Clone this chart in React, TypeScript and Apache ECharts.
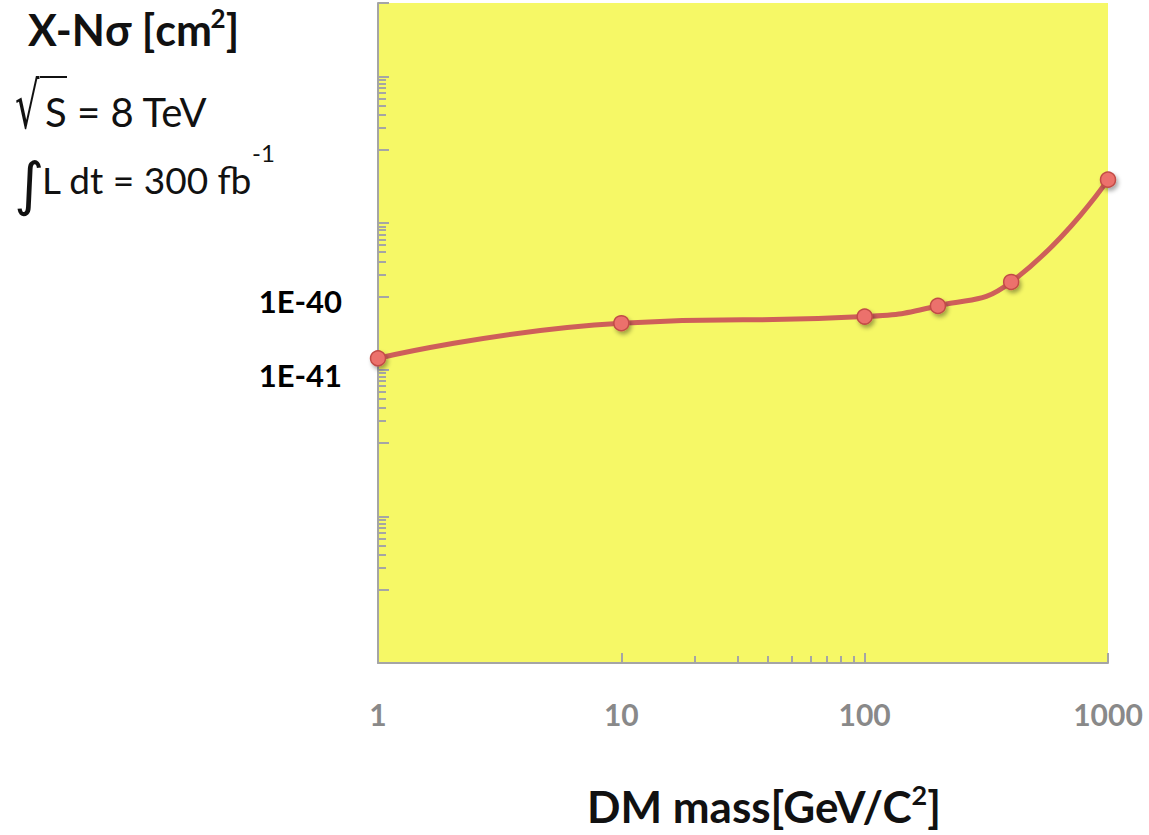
import React, { useEffect, useRef } from "react";
import * as echarts from "echarts";

// ---- data ----
const massValues = [1, 10, 100, 200, 400, 1000];
const sigmaValues = [1.43e-41, 4.3e-41, 5.3e-41, 7.4e-41, 1.57e-40, 3.9e-39]; // cm^2

const xMin = 1;
const xMax = 1000;
const xMajorTicks = [1, 10, 100, 1000];
const xMinorTicks = [20, 30, 40, 50, 60, 70, 80, 90];
const xLabelValues = [1, 10, 100, 1000];

const yMinExponent = -45;
const yMaxExponent = -36;
const yMajorExponents = [-45, -44, -43, -42, -41, -40, -39, -38, -37, -36];
const yMinorExponents = [-44, -42, -40, -38];
const yMinorMultipliers = [2, 3, 4, 5, 6, 7, 8, 9];
const yLabelExponents = [-41, -40];

// the axis works in units of 1e-45 cm^2 (ECharts rounds tiny extents to 0)
const UNIT_EXP = -45;
const toUnit = (v: number) => v * Math.pow(10, -UNIT_EXP);
const expToUnit = (e: number) => Math.pow(10, e - UNIT_EXP);

const yMajorTicks = yMajorExponents.map(expToUnit);
const yMinorTicks: number[] = [];
yMinorExponents.forEach((e) =>
  yMinorMultipliers.forEach((m) => yMinorTicks.push(m * expToUnit(e)))
);

const AXIS_GRAY = "#A5A5A5";
const FONT = "Lato, 'Open Sans', sans-serif";

export default function App() {
  const ref = useRef<HTMLDivElement>(null);
  useEffect(() => {
    if (!ref.current) return;
    const chart = echarts.init(ref.current, undefined, { renderer: "svg" });
    const yAxisBase = {
      type: "log",
      logBase: 10,
      min: expToUnit(yMinExponent),
      max: expToUnit(yMaxExponent),
      position: "left",
      splitLine: { show: false },
    };
    chart.setOption({
      animation: false,
      grid: {
        left: 378,
        right: 41,
        top: 3,
        bottom: 172,
        show: true,
        backgroundColor: "#F6F866",
        borderWidth: 0,
        outerBoundsMode: "none",
      },
      xAxis: [
        {
          type: "log",
          logBase: 10,
          min: xMin,
          max: xMax,
          position: "bottom",
          axisLine: { show: true, onZero: false, lineStyle: { color: AXIS_GRAY, width: 2 } },
          axisTick: {
            show: true,
            inside: true,
            length: 10,
            customValues: xMajorTicks,
            lineStyle: { color: AXIS_GRAY, width: 2 },
          },
          splitLine: { show: false },
          axisLabel: {
            customValues: xLabelValues,
            formatter: (v: number) => String(Math.round(v)),
            color: "#898989",
            fontFamily: FONT,
            fontWeight: "bold",
            fontSize: 30,
            margin: 36,
          },
        },
        {
          type: "log",
          logBase: 10,
          min: xMin,
          max: xMax,
          position: "bottom",
          axisLine: { show: false, onZero: false },
          axisTick: {
            show: true,
            inside: true,
            length: 7,
            customValues: xMinorTicks,
            lineStyle: { color: AXIS_GRAY, width: 2 },
          },
          splitLine: { show: false },
          axisLabel: { show: false },
        },
      ],
      yAxis: [
        {
          ...yAxisBase,
          axisLine: { show: true, onZero: false, lineStyle: { color: AXIS_GRAY, width: 2 } },
          axisTick: {
            show: true,
            inside: true,
            length: 11,
            customValues: yMajorTicks,
            lineStyle: { color: AXIS_GRAY, width: 2 },
          },
          axisLabel: {
            customValues: yLabelExponents.map(expToUnit),
            formatter: (v: number) => "1E" + (Math.round(Math.log10(v)) + UNIT_EXP),
            color: "#000000",
            fontFamily: FONT,
            fontWeight: "bold",
            fontSize: 31,
            margin: 36,
            verticalAlign: "top",
            lineHeight: 10,
          },
        },
        {
          ...yAxisBase,
          axisLine: { show: false, onZero: false },
          axisTick: {
            show: true,
            inside: true,
            length: 8,
            customValues: yMinorTicks,
            lineStyle: { color: AXIS_GRAY, width: 2 },
          },
          axisLabel: { show: false },
        },
      ],
      series: [
        {
          type: "line",
          xAxisIndex: 0,
          yAxisIndex: 0,
          data: massValues.map((m, i) => [m, toUnit(sigmaValues[i])]),
          smooth: 0.5,
          symbol: "circle",
          symbolSize: 15,
          lineStyle: { color: "#CE5F5A", width: 5 },
          itemStyle: {
            color: "#EC716C",
            borderColor: "#C24C47",
            borderWidth: 1.5,
            shadowBlur: 4,
            shadowColor: "rgba(0,0,0,0.35)",
            shadowOffsetX: 2,
            shadowOffsetY: 3,
          },
          z: 5,
        },
      ],
      graphic: [
        {
          type: "text",
          left: 28,
          top: 5,
          style: {
            text: "{b|X-Nσ [cm}{s|2}{b|]}",
            rich: {
              b: { fontFamily: FONT, fontWeight: "bold", fontSize: 43, fill: "#111", lineHeight: 48 },
              s: { fontFamily: FONT, fontWeight: "bold", fontSize: 26, fill: "#111", verticalAlign: "top", lineHeight: 48 },
            },
          },
        },
        {
          type: "text",
          x: 15,
          y: 106,
          scaleX: 0.6,
          style: {
            text: "√",
            font: "64px 'DejaVu Sans'",
            fill: "#111",
            verticalAlign: "middle",
          },
        },
        {
          type: "line",
          shape: { x1: 40, y1: 77, x2: 67, y2: 77 },
          style: { stroke: "#111", lineWidth: 2 },
        },
        {
          type: "text",
          x: 45,
          y: 112,
          style: {
            text: "S = 8 TeV",
            font: "40px " + FONT,
            fill: "#111",
            verticalAlign: "middle",
          },
        },
        {
          type: "text",
          x: 14,
          y: 184,
          style: {
            text: "∫",
            font: "58px 'DejaVu Sans'",
            fill: "#111",
            verticalAlign: "middle",
          },
        },
        {
          type: "text",
          x: 42,
          y: 179,
          style: {
            text: "L dt = 300 fb",
            font: "37px " + FONT,
            fill: "#111",
            verticalAlign: "middle",
          },
        },
        {
          type: "text",
          x: 252,
          y: 152,
          style: {
            text: "-1",
            font: "24px " + FONT,
            fill: "#111",
            verticalAlign: "middle",
          },
        },
        {
          type: "text",
          x: 764,
          y: 806,
          style: {
            text: "{b|DM mass[GeV/C}{s|2}{b|]}",
            align: "center",
            verticalAlign: "middle",
            rich: {
              b: { fontFamily: FONT, fontWeight: "bold", fontSize: 44, fill: "#111", lineHeight: 50 },
              s: { fontFamily: FONT, fontWeight: "bold", fontSize: 27, fill: "#111", verticalAlign: "top", lineHeight: 50 },
            },
          },
        },
      ],
    });
    return () => chart.dispose();
  }, []);
  return (
    <div
      ref={ref}
      style={{ position: "absolute", left: 0, top: 0, width: 1149, height: 835 }}
    />
  );
}
